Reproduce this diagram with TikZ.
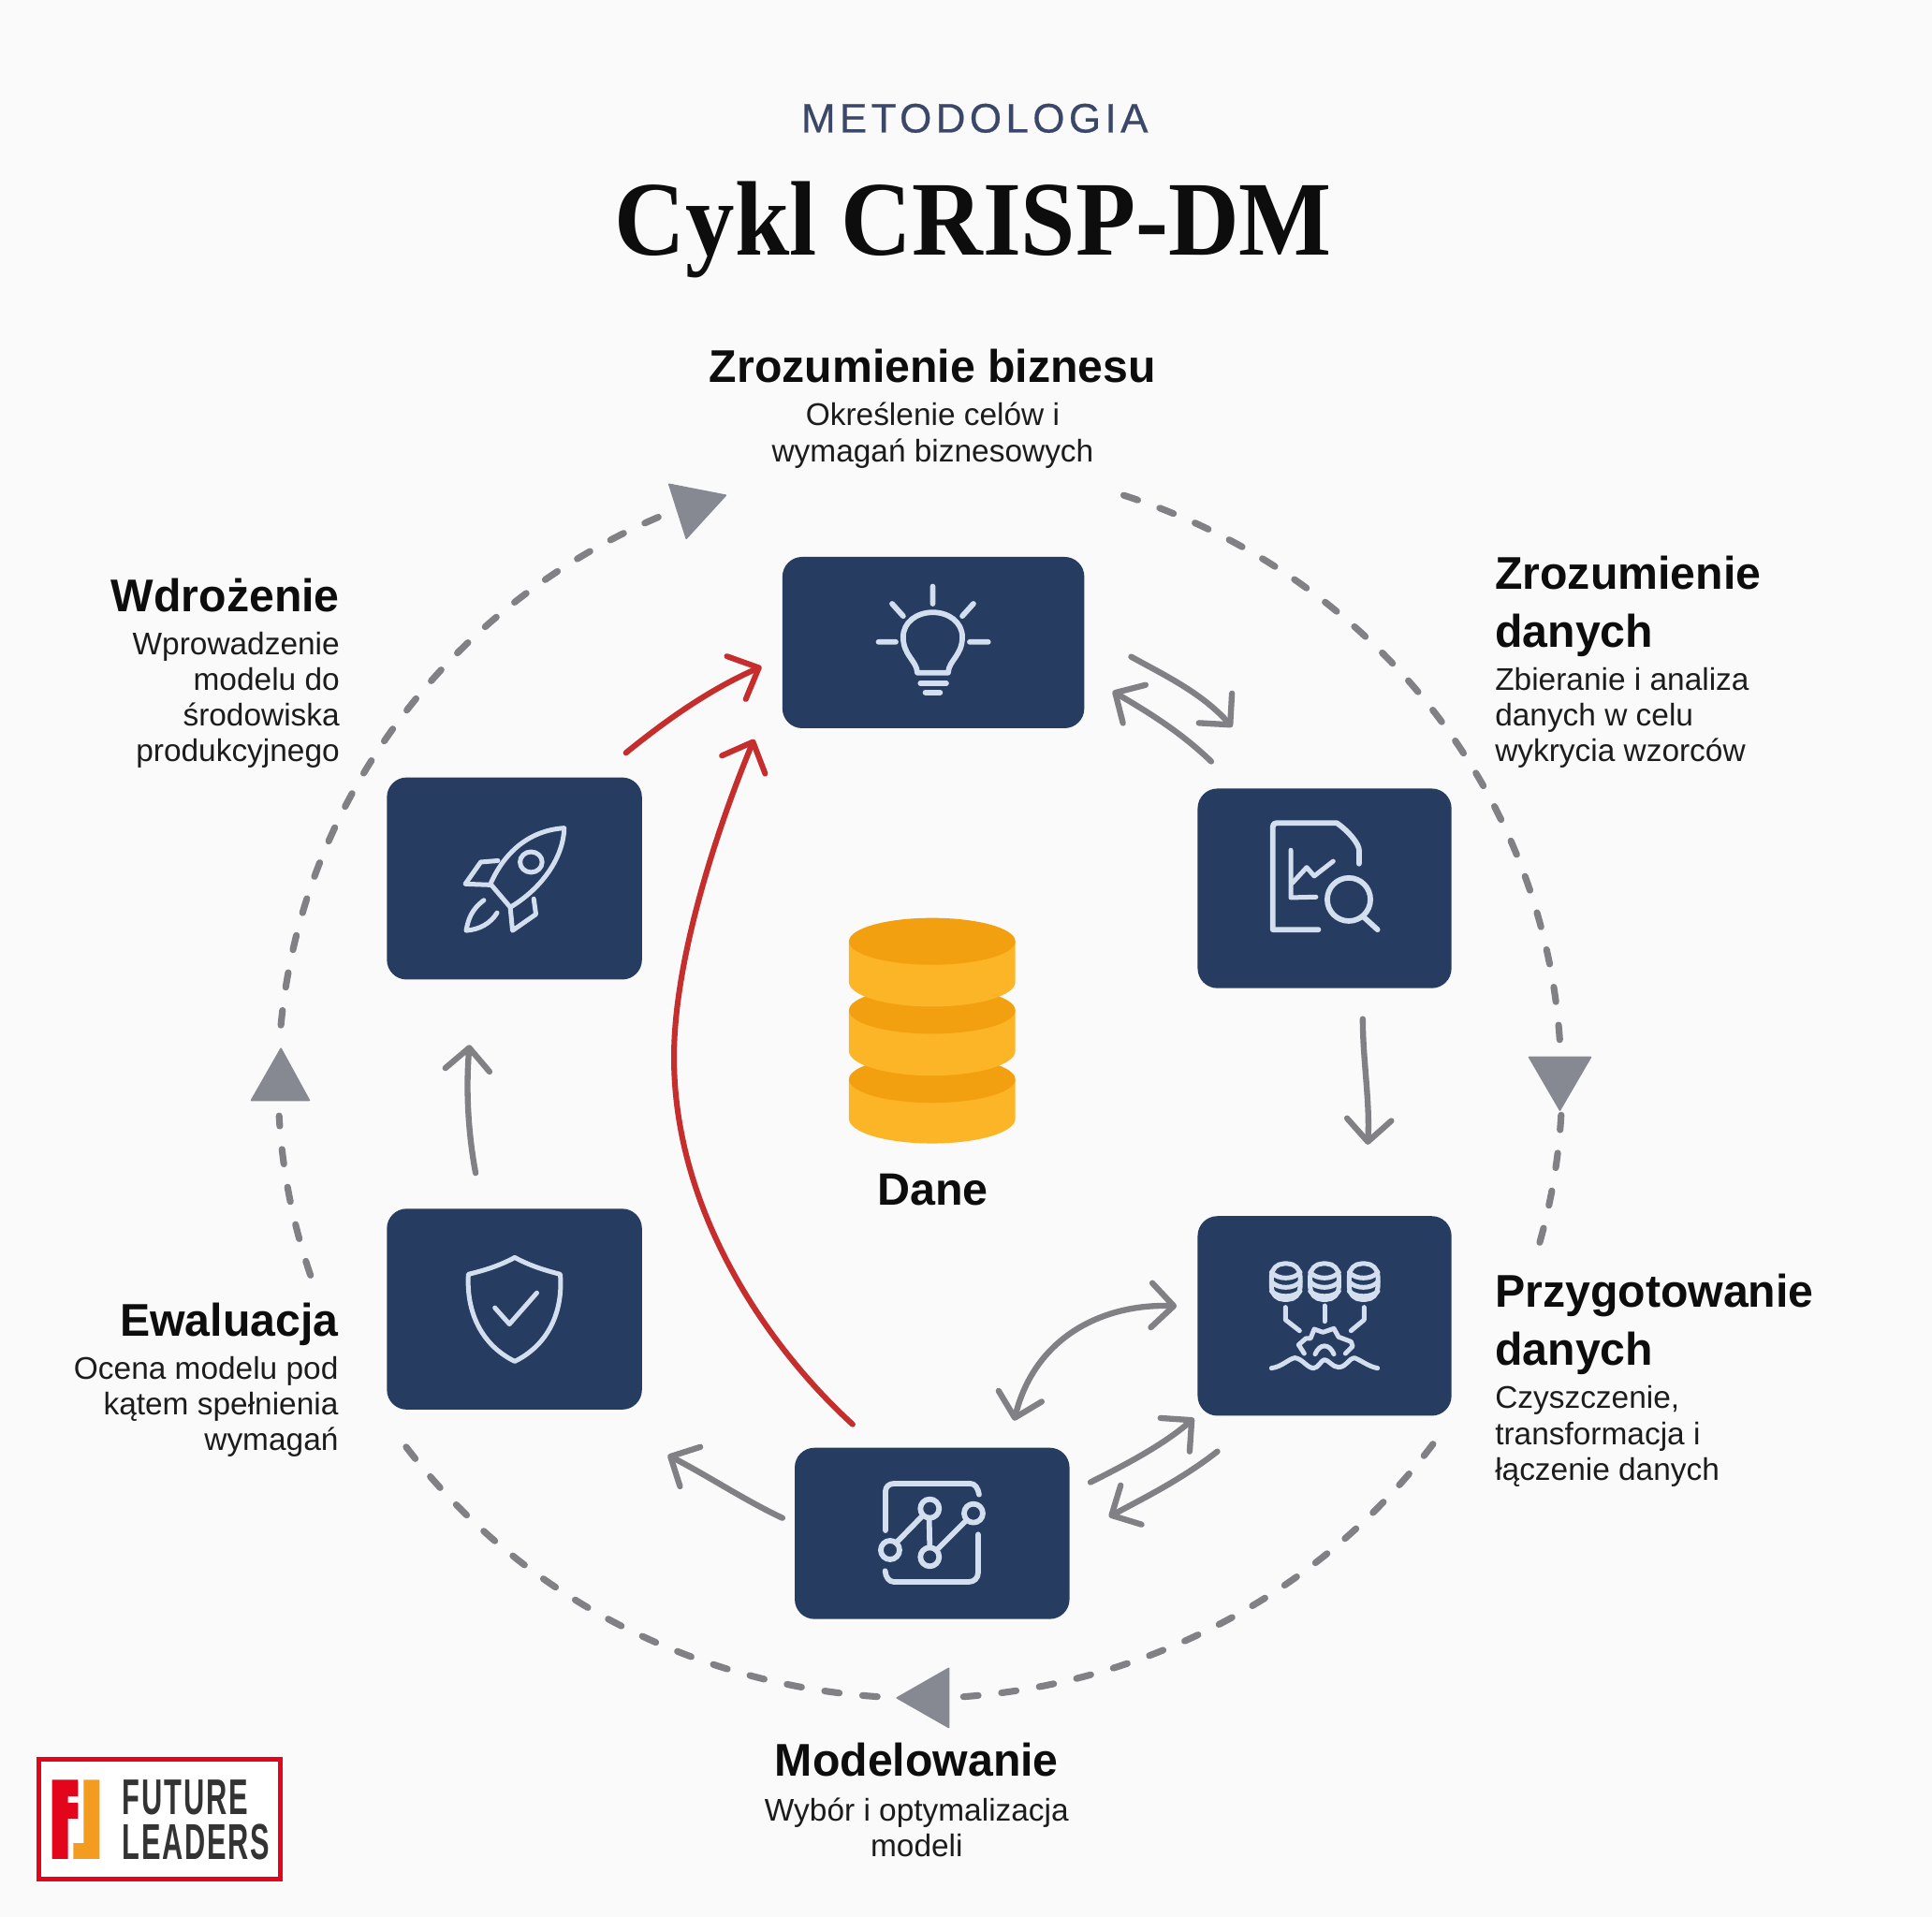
\documentclass[tikz,border=0pt]{standalone}
\usepackage{fontspec}
\usepackage{graphicx}
\usetikzlibrary{arrows.meta}
\setmainfont{Liberation Sans}
\newfontfamily\titlef[FakeStretch=0.926]{Liberation Serif}
\newfontfamily\metaf[LetterSpace=10,FakeBold=0.5]{Liberation Sans}
\newfontfamily\headf[FakeStretch=0.985]{Liberation Sans}
\newfontfamily\logof[LetterSpace=6]{Liberation Sans}
\definecolor{bgc}{HTML}{F9FAF9}
\definecolor{navy}{HTML}{263C60}
\definecolor{iconc}{HTML}{D3DFEE}
\definecolor{greyl}{HTML}{808085}
\definecolor{trig}{HTML}{868892}
\definecolor{redl}{HTML}{C62D2D}
\definecolor{metac}{HTML}{3B4769}
\definecolor{diskd}{HTML}{F29F10}
\definecolor{diskl}{HTML}{FBB526}
\definecolor{txt}{HTML}{1C1C1C}
\definecolor{logor}{HTML}{E3051B}
\definecolor{logoo}{HTML}{F39C1F}
\definecolor{logot}{HTML}{333333}
\tikzset{
  box/.style={draw=none,fill=navy,rounded corners=8pt,inner sep=0pt},
  head/.style={inner sep=0pt,font=\headf\fontsize{18.6}{23.5}\selectfont\bfseries,text=black!95},
  bodytxt/.style={inner sep=0pt,font=\fontsize{12.7}{14.5}\selectfont,text=txt},
  ring/.style={draw=greyl,line width=2.7pt,line cap=round,dash pattern=on 6pt off 9.5pt},
  tri/.style={fill=trig,draw=trig,line width=0.6pt,line join=round},
  conn/.style={draw=greyl,line width=2.4pt,line cap=round,line join=round,-{Straight Barb[length=9pt,width=18pt,round]}},
  conn2/.style={draw=greyl,line width=2.4pt,line cap=round,line join=round,{Straight Barb[length=9pt,width=18pt,round]}-{Straight Barb[length=9pt,width=18pt,round]}},
  redc/.style={draw=redl,line width=2.3pt,line cap=round,line join=round,-{Straight Barb[length=10pt,width=19pt,round]}},
  ico/.style={draw=iconc,line width=2.2pt,line cap=round,line join=round},
  icos/.style={draw=iconc,line width=1.9pt,line cap=round,line join=round},
}
\newcommand{\dbdisk}[2]{%
  \fill[diskl] (689,#1) -- (689,#2) arc[start angle=180,end angle=0,x radius=67.5,y radius=20] -- (824,#1) -- cycle;
  \fill[diskd] (756.5,#1) ellipse[x radius=67.5,y radius=19];
}
\begin{document}
\begin{tikzpicture}[x=0.5pt,y=-0.5pt]
\useasboundingbox (0,0) rectangle (1568,1555.8);
\fill[bgc] (0,0) rectangle (1568,1555.8);

% titles
\node[inner sep=0pt,anchor=center,text=metac,font=\metaf\fontsize{16.7}{20}\selectfont] (meta) at (791,96) {METODOLOGIA};
\node[inner sep=0pt,anchor=base,font=\titlef\fontsize{43}{48}\selectfont\bfseries,text=black!95] (title) at (790,207) {Cykl CRISP-DM};

% boxes
\node[box,minimum width=122.5pt,minimum height=69.5pt] (b1) at (757.5,521.5) {};
\node[box,minimum width=103pt,minimum height=81pt] (b2) at (1075,721) {};
\node[box,minimum width=103pt,minimum height=81pt] (b3) at (1075,1068) {};
\node[box,minimum width=111.5pt,minimum height=69.5pt] (b4) at (756.5,1244.5) {};
\node[box,minimum width=103.5pt,minimum height=81.5pt] (b5) at (417.5,1062.5) {};
\node[box,minimum width=103.5pt,minimum height=82pt] (b6) at (417.5,713) {};

% database
\dbdisk{876}{908}
\dbdisk{820}{853}
\dbdisk{764}{797}
\node[inner sep=0pt,anchor=base,font=\fontsize{18.4}{22}\selectfont\bfseries,text=black!95] (dane) at (757,978) {Dane};

% labels
\node[head,anchor=north] (h1) at (757,283) {Zrozumienie biznesu};
\node[bodytxt,anchor=north,align=center] (t1) at (757,326.5) {Określenie celów i\\wymagań biznesowych};
\node[head,anchor=north west,align=left] (h2) at (1213,451) {Zrozumienie\\danych};
\node[bodytxt,anchor=north west,align=left] (t2) at (1213,541.5) {Zbieranie i analiza\\danych w celu\\wykrycia wzorców};
\node[head,anchor=north west,align=left] (h3) at (1213,1033.5) {Przygotowanie\\danych};
\node[bodytxt,anchor=north west,align=left] (t3) at (1213,1124.5) {Czyszczenie,\\transformacja i\\łączenie danych};
\node[head,anchor=north] (h4) at (744,1414.5) {Modelowanie};
\node[bodytxt,anchor=north,align=center] (t4) at (744,1458.5) {Wybór i optymalizacja\\modeli};
\node[head,anchor=north east] (h5) at (275,1057) {Ewaluacja};
\node[bodytxt,anchor=north east,align=right] (t5) at (275,1100.5) {Ocena modelu pod\\kątem spełnienia\\wymagań};
\node[head,anchor=north east] (h6) at (276,469) {Wdrożenie};
\node[bodytxt,anchor=north east,align=right] (t6) at (276,512.5) {Wprowadzenie\\modelu do\\środowiska\\produkcyjnego};

% outer dashed ring (ellipse centre 747,877, radii 520 x 501)
\coordinate (ra) at (912,402);
\coordinate (rb) at (1267,905);
\coordinate (rc) at (1163,1172);
\coordinate (rd) at (712,1377);
\coordinate (re) at (252,1035);
\coordinate (rf) at (228,832);
\draw[ring] (ra) arc[start angle=-71.5,end angle=-1,x radius=520,y radius=501];
\draw[ring] (rb) arc[start angle=3.2,end angle=15.5,x radius=520,y radius=501];
\draw[ring] (rc) arc[start angle=36,end angle=86,x radius=520,y radius=501];
\draw[ring] (rd) arc[start angle=94,end angle=143.9,x radius=520,y radius=501];
\draw[ring] (re) arc[start angle=161.7,end angle=176.8,x radius=520,y radius=501];
\draw[ring] (rf) arc[start angle=185.2,end angle=246,x radius=520,y radius=501];
\fill[tri] (1241,858) -- (1291,858) -- (1266,901) -- cycle;
\fill[tri] (728,1378) -- (770,1354) -- (770,1402) -- cycle;
\fill[tri] (228,851) -- (204,893) -- (251,893) -- cycle;
\fill[tri] (589,402) -- (543,393) -- (557,437) -- cycle;

% connectors
\coordinate (c12a) at (918,533); \coordinate (c12b) at (1000,590);
\draw[conn] (c12a) .. controls (945,548) and (975,562) .. (c12b);
\coordinate (c21a) at (983,618); \coordinate (c21b) at (903,561);
\draw[conn] (c21a) .. controls (957,593) and (930,577) .. (c21b);
\coordinate (c23a) at (1106,827); \coordinate (c23b) at (1110,929);
\draw[conn] (c23a) .. controls (1106,860) and (1112,895) .. (c23b);
\coordinate (c34a) at (955,1060); \coordinate (c34b) at (823,1153);
\draw[conn2] (c34a) .. controls (895,1058) and (840,1085) .. (c34b);
\coordinate (c43a) at (885,1203); \coordinate (c43b) at (969,1151);
\draw[conn] (c43a) .. controls (915,1188) and (945,1172) .. (c43b);
\coordinate (c34c) at (988,1178); \coordinate (c34d) at (900,1231);
\draw[conn] (c34c) .. controls (960,1200) and (930,1215) .. (c34d);
\coordinate (c45a) at (635,1232); \coordinate (c45b) at (542,1181);
\draw[conn] (c45a) .. controls (605,1218) and (575,1198) .. (c45b);
\coordinate (c56a) at (386,952); \coordinate (c56b) at (381,848);
\draw[conn] (c56a) .. controls (380,920) and (378,885) .. (c56b);
\coordinate (r61a) at (508,611); \coordinate (r61b) at (618,541);
\draw[redc] (r61a) .. controls (540,585) and (575,560) .. (r61b);
\coordinate (r41a) at (692,1156); \coordinate (r41m) at (547,858); \coordinate (r41b) at (612,600);
\draw[redc] (r41a) .. controls (625,1095) and (547,985) .. (r41m) .. controls (547,775) and (585,665) .. (r41b);

% bulb
\draw[ico] (744.5,546) .. controls (744,536) and (733,532) .. (733,517) .. controls (733,505) and (744,497) .. (757,497) .. controls (770,497) and (781,505) .. (781,517) .. controls (781,532) and (770,536) .. (769.5,546) -- cycle;
\draw[ico] (747,554.6) -- (768,554.6) (751,562) -- (763,562);
\draw[ico] (757,476) -- (757,490) (724,490) -- (733,500) (790,490) -- (781,500) (713,521) -- (727,521) (787,521) -- (802,521);

% document icon
\draw[ico] (1070,754.5) -- (1033,754.5) -- (1033,671) .. controls (1033,669) and (1034,668) .. (1036,668) -- (1085,668) .. controls (1095,675) and (1103,685) .. (1103,690) -- (1103,701);
\draw[icos] (1047.6,690) -- (1047.6,728.5) -- (1068,728);
\draw[icos] (1049,716.5) -- (1060.5,704) -- (1066.6,711) -- (1082,699);
\draw[ico] (1094.7,730) circle[radius=17.5];
\draw[ico] (1107,744.5) -- (1118,754.5);

% data preparation icon
\begin{scope}[shift={(797.7,972.4)},scale=.2532]
\foreach \c in {971,1095,1220}{
  \draw[icos,rounded corners=5pt] (\c-46,210) rectangle (\c+46,325);
  \draw[icos] (\c-46,238) .. controls (\c-25,262) and (\c+25,262) .. (\c+46,238);
  \draw[icos] (\c-46,268) .. controls (\c-25,292) and (\c+25,292) .. (\c+46,268);
  \draw[icos] (\c-46,298) .. controls (\c-25,320) and (\c+25,320) .. (\c+46,298);
}
\draw[icos] (970,350) -- (970,390) -- (1015,425);
\draw[icos] (1095,345) -- (1095,395);
\draw[icos] (1222,350) -- (1222,390) -- (1180,425);
\draw[icos] (1030,498) -- (1012,470) -- (1035,450) -- (1050,450) -- (1062,420) -- (1090,430) -- (1125,418) -- (1140,445) -- (1180,460) -- (1185,475) -- (1162,498);
\draw[icos] (1065,500) .. controls (1080,465) and (1110,465) .. (1125,500);
\draw[icos] (925,545) .. controls (960,540) and (980,515) .. (1000,512) .. controls (1025,515) and (1040,545) .. (1060,545) .. controls (1075,545) and (1085,518) .. (1095,518) .. controls (1108,518) and (1120,542) .. (1140,542) .. controls (1165,542) and (1175,512) .. (1190,512) .. controls (1205,515) and (1235,540) .. (1265,545);
\end{scope}

% model icon
\begin{scope}[shift={(683.7,1185.1)},scale=.2532]
\draw[ico] (138,225) -- (138,100) .. controls (138,85) and (150,75) .. (165,75) -- (410,75) .. controls (425,75) and (435,90) .. (438,110);
\draw[ico] (435,238) -- (435,360) .. controls (435,378) and (422,390) .. (405,390) -- (165,390) .. controls (150,390) and (138,375) .. (137,355);
\draw[ico] (280,155) circle[radius=30];
\draw[ico] (420,170) circle[radius=30];
\draw[ico] (153,288) circle[radius=30];
\draw[ico] (280,310) circle[radius=30];
\draw[ico] (172,265) -- (255,180) (278,185) -- (280,280) (305,285) -- (395,195);
\end{scope}

% rocket and shield icons
\begin{scope}[shift={(288.7,607.8)},xscale=.3585,yscale=.378]
\draw[icos] (472,170) .. controls (390,175) and (335,225) .. (305,290) -- (350,340) .. controls (420,300) and (470,235) .. (472,170) -- cycle;
\draw[icos] (322,240) -- (283,243) -- (248,290) -- (305,292);
\draw[icos] (350,342) -- (355,390) -- (408,355) -- (403,322);
\draw[icos] (290,325) .. controls (262,345) and (255,365) .. (250,390) .. controls (280,388) and (305,375) .. (320,352);
\draw[icos] (397,243) ellipse[x radius=25,y radius=22];
\draw[icos] (360,1092) .. controls (325,1110) and (290,1120) .. (255,1128) .. controls (250,1210) and (285,1280) .. (360,1315) .. controls (435,1280) and (470,1210) .. (463,1128) .. controls (430,1120) and (395,1110) .. (360,1092) -- cycle;
\draw[icos] (315,1200) -- (348,1235) -- (410,1168);
\end{scope}

% logo
\node[draw=logor,fill=white,line width=1.9pt,minimum width=98pt,minimum height=48.5pt,inner sep=0pt] (logo) at (129.2,1476.5) {};
\fill[logor] (42.3,1444.4) -- (63.3,1444.4) -- (63.3,1458) -- (55.2,1458) -- (55.2,1463) -- (63.3,1463) -- (63.3,1476) -- (55.2,1476) -- (55.2,1508.7) -- (42.3,1508.7) -- cycle;
\fill[logoo] (67.9,1444.4) -- (80.8,1444.4) -- (80.8,1508.7) -- (59.5,1508.7) -- (59.5,1496) -- (67.9,1496) -- cycle;
\node[inner sep=0pt,anchor=north west,text=logot] (lg1) at (98.8,1444.4) {\resizebox{51pt}{14pt}{\logof\bfseries FUTURE}};
\node[inner sep=0pt,anchor=north west,text=logot] (lg2) at (98.8,1480) {\resizebox{60pt}{14.3pt}{\logof\bfseries LEADERS}};
\end{tikzpicture}
\end{document}
